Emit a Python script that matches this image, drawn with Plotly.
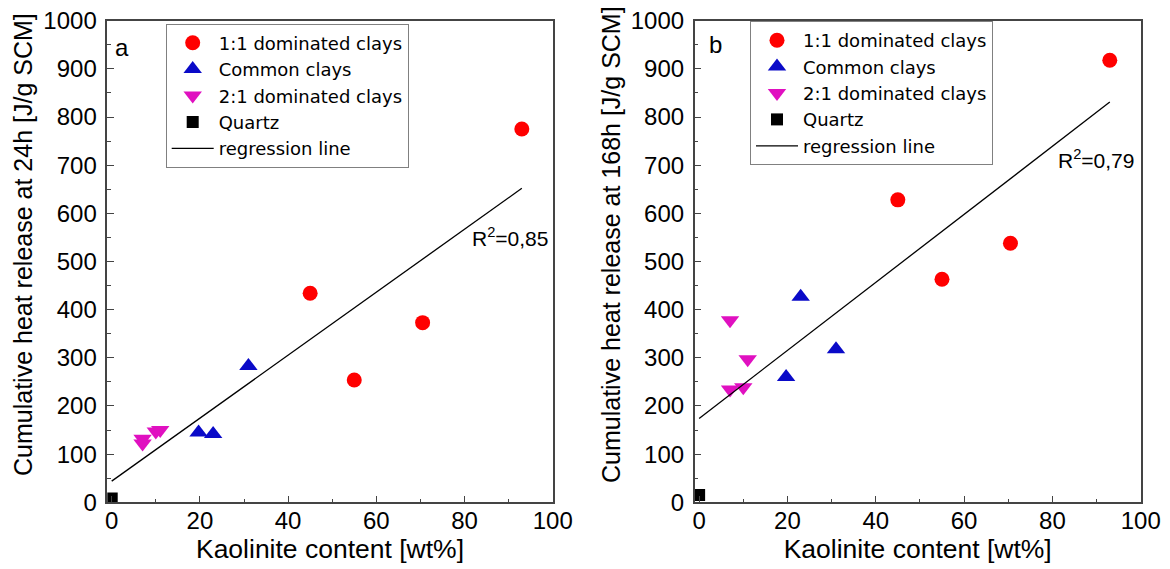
import plotly.graph_objects as go

# ---------------- data ----------------
kaol_11 = [45, 55, 70.5, 93]
heat24_11 = [434, 254, 373, 775]
heat168_11 = [628, 463, 538, 918]

kaol_common = [19.7, 23, 31]
heat24_common = [145, 142, 283]
heat168_common = [260, 427, 318]

kaol_21 = [7, 7, 10, 11]
heat24_21 = [132, 122, 147, 150]
heat168_21 = [378, 234, 239, 297]

kaol_quartz = [0]
heat24_quartz = [8]
heat168_quartz = [15]

reg_x = [0, 93]
reg24_y = [44, 652]
reg168_y = [174, 831]

r2_labels = ["R<sup>2</sup>=0,85", "R<sup>2</sup>=0,79"]
panel_labels = ["a", "b"]
y_titles = ["Cumulative heat release at 24h [J/g SCM]",
            "Cumulative heat release at 168h [J/g SCM]"]
x_title = "Kaolinite content [wt%]"

FONT = "Liberation Sans, Arial, sans-serif"
LEGFONT = "DejaVu Sans, Liberation Sans, sans-serif"
RED = "#ff0000"
BLUE = "#0a0ac8"
MAG = "#e010c0"
W, H = 1170, 569

fig = go.Figure()

panels = [
    ("x", "y", "legend", heat24_11, heat24_common, heat24_21, heat24_quartz, reg24_y),
    ("x2", "y2", "legend2", heat168_11, heat168_common, heat168_21, heat168_quartz, reg168_y),
]
for xa, ya, lg, h11, hc, h21, hq, reg in panels:
    fig.add_trace(go.Scatter(x=kaol_11, y=h11, mode="markers", name="1:1 dominated clays",
                             marker=dict(symbol="circle", size=15, color=RED),
                             xaxis=xa, yaxis=ya, legend=lg))
    fig.add_trace(go.Scatter(x=kaol_common, y=hc, mode="markers", name="Common clays",
                             marker=dict(symbol="triangle-up", size=16, color=BLUE),
                             xaxis=xa, yaxis=ya, legend=lg))
    fig.add_trace(go.Scatter(x=kaol_21, y=h21, mode="markers", name="2:1 dominated clays",
                             marker=dict(symbol="triangle-down", size=16, color=MAG),
                             xaxis=xa, yaxis=ya, legend=lg))
    fig.add_trace(go.Scatter(x=kaol_quartz, y=hq, mode="markers", name="Quartz",
                             marker=dict(symbol="square", size=12, color="black"),
                             xaxis=xa, yaxis=ya, legend=lg))
    fig.add_trace(go.Scatter(x=reg_x, y=reg, mode="lines", name="regression line",
                             line=dict(color="black", width=1.3),
                             xaxis=xa, yaxis=ya, legend=lg))

axis_common = dict(
    showline=True, linecolor="#444444", linewidth=1.5, mirror=True,
    showgrid=False, zeroline=False, automargin=False,
    ticks="inside", ticklen=7, tickwidth=1.2, tickcolor="#444444",
    tickfont=dict(family=FONT, size=24, color="black"),
    minor=dict(ticks="inside", ticklen=4, tickwidth=1.2, tickcolor="#444444", showgrid=False),
)

xdom = [[107.3 / W, 552.7 / W], [694.7 / W, 1140.7 / W]]
ydom = [1 - 502.3 / H, 1 - 20.7 / H]

layout = dict(
    template="none",
    width=W, height=H,
    margin=dict(l=0, r=0, t=0, b=0, autoexpand=False),
    paper_bgcolor="white", plot_bgcolor="white",
    font=dict(family=FONT, color="black"),
    showlegend=True,
)
for i, (xk, yk, ya_ref) in enumerate([("xaxis", "yaxis", "x"), ("xaxis2", "yaxis2", "x2")]):
    layout[xk] = dict(axis_common, domain=xdom[i], range=[-1, 100], dtick=20, tick0=0,
                      minor=dict(axis_common["minor"], dtick=10),
                      anchor="y" if i == 0 else "y2",
                      title=dict(text=x_title, font=dict(family=FONT, size=26.5), standoff=2),
                      ticklabelstandoff=-4)
    layout[yk] = dict(axis_common, domain=ydom, range=[0, 1000], dtick=100, tick0=0,
                      minor=dict(axis_common["minor"], dtick=50),
                      anchor=ya_ref, ticklabelstandoff=4)

legend_common = dict(
    bgcolor="rgba(255,255,255,0)", bordercolor="#808080", borderwidth=1,
    font=dict(family=LEGFONT, size=18, color="black"),
    xanchor="left", yanchor="top", tracegroupgap=0, itemwidth=42,
)
layout["legend"] = dict(legend_common, x=165.7 / W, y=1 - 23.5 / H)
layout["legend2"] = dict(legend_common, x=750 / W, y=1 - 21 / H)

fig.update_layout(**layout)

# y-axis titles (placed as rotated text beside each axis)
for i, xc in enumerate([23, 611]):
    fig.add_annotation(x=xc / W, y=1 - 245 / H, xref="paper", yref="paper",
                       text=y_titles[i], textangle=-90, showarrow=False,
                       xanchor="center", yanchor="middle",
                       font=dict(family=FONT, size=25, color="black"))

fig.add_annotation(x=81.3, y=550, xref="x", yref="y", text=r2_labels[0], showarrow=False,
                   xanchor="left", yanchor="middle", font=dict(family=FONT, size=21))
fig.add_annotation(x=80.9, y=712, xref="x2", yref="y2", text=r2_labels[1], showarrow=False,
                   xanchor="left", yanchor="middle", font=dict(family=FONT, size=21))
fig.add_annotation(x=0.3, y=945, xref="x", yref="y", text=panel_labels[0], showarrow=False,
                   xanchor="left", yanchor="middle", font=dict(family=FONT, size=24))
fig.add_annotation(x=1.8, y=950, xref="x2", yref="y2", text=panel_labels[1], showarrow=False,
                   xanchor="left", yanchor="middle", font=dict(family=FONT, size=24))

fig.write_html("out.html")
